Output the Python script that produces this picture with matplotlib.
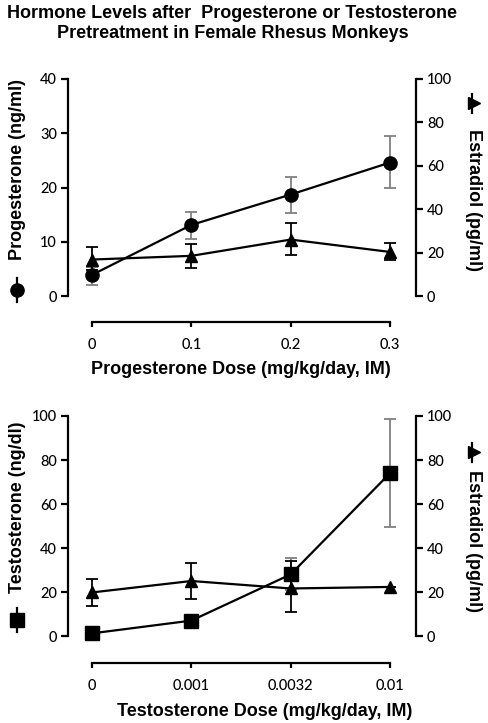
import matplotlib
matplotlib.use("Agg")
import matplotlib.pyplot as plt

# top panel: progesterone pretreatment
prog_doses = ["0", "0.1", "0.2", "0.3"]
prog_mean = [3.9, 13.1, 18.7, 24.6]
prog_lo = [2.1, 10.5, 15.3, 19.9]
prog_hi = [5.4, 15.5, 22.0, 29.5]
estr_p_mean = [16.8, 18.5, 26.0, 20.3]
estr_p_lo = [12.0, 12.7, 18.7, 16.8]
estr_p_hi = [22.4, 23.9, 33.7, 24.5]

# bottom panel: testosterone pretreatment
testo_doses = ["0", "0.001", "0.0032", "0.01"]
testo_mean = [1.2, 7.0, 28.0, 74.0]
testo_lo = [0.5, 6.0, 21.0, 49.5]
testo_hi = [2.0, 8.0, 35.6, 98.8]
estr_t_mean = [19.8, 25.0, 21.6, 22.3]
estr_t_lo = [13.8, 16.8, 10.7, 22.3]
estr_t_hi = [26.0, 33.4, 34.0, 22.3]

W, H = 489, 723
TICK_FONT = "Lato"
LABEL_FONT = "Liberation Sans"
LAB_SIZE = 13


def px_axes(fig, left, top, right, bottom):
    return fig.add_axes([left / W, 1 - bottom / H, (right - left) / W, (bottom - top) / H])


def err(mean, lo, hi):
    return [[m - l for m, l in zip(mean, lo)], [h - m for m, h in zip(mean, hi)]]


def style_pair(ax, ax2, labels, ymax_left, left_ticks, drop):
    n = len(labels)
    ax.set_xlim(-0.242, n - 1 + 0.262)
    ax.set_xticks(range(n))
    ax.set_xticklabels(labels)
    ax.set_ylim(0, ymax_left)
    ax.set_yticks(left_ticks)
    ax2.set_ylim(0, 100)
    ax2.set_yticks(range(0, 101, 20))
    for s in ["top", "right"]:
        ax.spines[s].set_visible(False)
    for s in ["top", "left", "bottom"]:
        ax2.spines[s].set_visible(False)
    ax.spines["bottom"].set_position(("outward", drop))
    ax.spines["bottom"].set_bounds(0, n - 1)
    for sp in [ax.spines["left"], ax.spines["bottom"], ax2.spines["right"]]:
        sp.set_linewidth(1.6)
    for a in (ax, ax2):
        a.tick_params(width=1.6, length=5, labelsize=10.5, pad=3)
        for t in a.get_xticklabels() + a.get_yticklabels():
            t.set_fontfamily(TICK_FONT)
            t.set_fontweight("medium")
    ax.tick_params(axis="x", length=3.5, pad=8)


def draw_panel(fig, top, bottom, drop, labels, ymax, lticks, main, main_lo, main_hi,
               estr, estr_lo, estr_hi, marker, left_label, xlabel, lab_y, sym_y,
               rlab_y, rsym_y, xlab_x, xlab_y):
    ax = px_axes(fig, 68, top, 416, bottom)
    ax2 = ax.twinx()
    x = list(range(len(labels)))
    ax.errorbar(x, main, yerr=err(main, main_lo, main_hi), fmt="none", ecolor="#808080",
                elinewidth=1.3, capsize=4.5, capthick=1.3, clip_on=False, zorder=2)
    ax.plot(x, main, color="black", lw=1.6, marker=marker, ms=9.5, clip_on=False, zorder=3)
    ax2.errorbar(x, estr, yerr=err(estr, estr_lo, estr_hi), fmt="none", ecolor="black",
                 elinewidth=1.3, capsize=4.5, capthick=1.3, clip_on=False, zorder=2)
    ax2.plot(x, estr, color="black", lw=1.6, marker="^", ms=9, clip_on=False, zorder=3)
    style_pair(ax, ax2, labels, ymax, lticks, drop)

    h = bottom - top
    lx = (17 - 68) / 348
    # left label with its symbol
    ax.text(lx, (bottom - lab_y) / h, left_label, transform=ax.transAxes, rotation=90,
            ha="center", va="center", fontsize=LAB_SIZE, fontweight="bold", family=LABEL_FONT)
    ax.plot([lx, lx], [(bottom - sym_y + 12) / h, (bottom - sym_y - 12) / h],
            transform=ax.transAxes, color="black", lw=1.6, clip_on=False)
    ax.plot([lx], [(bottom - sym_y) / h], transform=ax.transAxes, color="black",
            marker=marker, ms=9.5, clip_on=False)
    # right label with its symbol
    rx = (474 - 68) / 348
    ax2.text(rx, (bottom - rlab_y) / h, "Estradiol (pg/ml)", transform=ax2.transAxes,
             rotation=-90, ha="center", va="center", fontsize=LAB_SIZE, fontweight="bold",
             family=LABEL_FONT)
    ax2.plot([rx - 0.006, rx - 0.006], [(bottom - rsym_y + 9) / h, (bottom - rsym_y - 10) / h],
             transform=ax2.transAxes, color="black", lw=1.6, clip_on=False)
    ax2.plot([rx], [(bottom - rsym_y) / h], transform=ax2.transAxes, color="black",
             marker=">", ms=8, clip_on=False)
    fig.text(xlab_x / W, 1 - xlab_y / H, xlabel, ha="center", va="center", fontsize=LAB_SIZE,
             fontweight="bold", family=LABEL_FONT)
    return ax, ax2


fig = plt.figure(figsize=(W / 100, H / 100), dpi=100)
fig.text(232 / W, 1 - 13 / H, "Hormone Levels after  Progesterone or Testosterone",
         ha="center", va="center", fontsize=13, fontweight="bold", family=LABEL_FONT)
fig.text(233 / W, 1 - 34 / H, "Pretreatment in Female Rhesus Monkeys",
         ha="center", va="center", fontsize=13, fontweight="bold", family=LABEL_FONT)

draw_panel(fig, 79, 296, 18.7, prog_doses, 40, range(0, 41, 10),
           prog_mean, prog_lo, prog_hi, estr_p_mean, estr_p_lo, estr_p_hi,
           "o", "Progesterone (ng/ml)", "Progesterone Dose (mg/kg/day, IM)",
           170, 290, 200, 103, 241, 370)
draw_panel(fig, 416, 636, 19.4, testo_doses, 100, range(0, 101, 20),
           testo_mean, testo_lo, testo_hi, estr_t_mean, estr_t_lo, estr_t_hi,
           "s", "Testosterone (ng/dl)", "Testosterone Dose (mg/kg/day, IM)",
           507, 620, 541, 452, 265, 712)

fig.savefig("out.png", dpi=100)
